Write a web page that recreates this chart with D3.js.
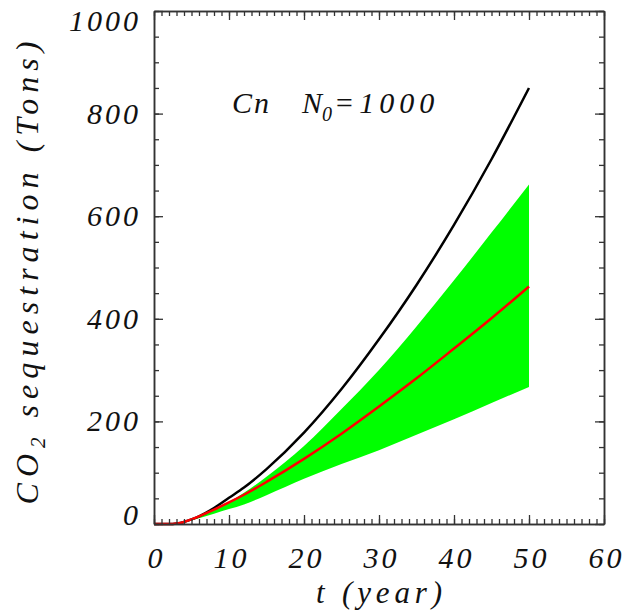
<!DOCTYPE html>
<html>
<head>
<meta charset="utf-8">
<script src="https://cdn.jsdelivr.net/npm/d3@7"></script>
<style>
  body { margin: 0; background: #fff; }
  svg text { font-family: "Liberation Serif", serif; font-style: italic; fill: #111; }
</style>
</head>
<body>
<svg width="623" height="616"></svg>
<script>
// DATA
var years       = [0, 1, 2, 3, 4, 5, 6, 8, 10, 12, 15, 20, 25, 30, 35, 40, 45, 50];
var noMortality = [0, 0, 0, 1, 4, 9, 15, 31, 51, 71, 107, 178, 263, 360, 466, 583, 711, 850];
var bandUpper   = [0, 0, 0, 1, 4, 8, 14, 27, 43, 61, 92, 152, 224, 300, 385, 475, 568, 662];
var meanValue   = [0, 0, 0, 1, 4, 9, 15, 28, 42, 57, 82, 127, 176, 229, 284, 342, 401, 463];
var bandLower   = [0, 0, 0, 1, 3, 7, 11, 20, 29, 38, 56, 88, 117, 144, 174, 204, 236, 267];
var xTicks = [0, 10, 20, 30, 40, 50, 60];
var yTicks = [0, 200, 400, 600, 800, 1000];

//PLOT BOX
var boxL = 154, boxR = 604, boxT = 11, boxB = 524;

var svg = d3.select('svg');

var x = d3.scaleLinear().domain([0, 60]).range([boxL, boxR]);
var y = d3.scaleLinear().domain([0, 1000]).range([boxB, boxT]);

var rows = years.map(function(t, i) {
    return {t: t, black: noMortality[i], hi: bandUpper[i], mean: meanValue[i], lo: bandLower[i]};
});

//GREEN BAND
var band = d3.area()
    .x(function(d) { return x(d.t); })
    .y0(function(d) { return y(d.lo); })
    .y1(function(d) { return y(d.hi); })
    .curve(d3.curveMonotoneX);

svg.append('path')
    .datum(rows)
    .attr('d', band)
    .attr('fill', '#00ff00');

//LINES
function lineOf(key) {
    return d3.line()
        .x(function(d) { return x(d.t); })
        .y(function(d) { return y(d[key]); })
        .curve(d3.curveMonotoneX);
}

svg.append('path')
    .datum(rows)
    .attr('d', lineOf('black'))
    .attr('fill', 'none')
    .attr('stroke', '#000')
    .attr('stroke-width', 2.5);

svg.append('path')
    .datum(rows)
    .attr('d', lineOf('mean'))
    .attr('fill', 'none')
    .attr('stroke', '#ff0000')
    .attr('stroke-width', 2.5);

//AXES (ticks point inward, IDL style)
function styleAxis(g) {
    g.selectAll('path.domain').attr('stroke', '#333').attr('stroke-width', 1.5);
    g.selectAll('.tick line').attr('stroke', '#333').attr('stroke-width', 1.3);
}

// minor ticks
svg.append('g').attr('transform', 'translate(0,' + boxB + ')')
    .call(d3.axisBottom(x).tickValues(d3.range(0, 61, 1)).tickSize(-5).tickSizeOuter(0).tickFormat(''))
    .call(styleAxis);
svg.append('g').attr('transform', 'translate(0,' + boxT + ')')
    .call(d3.axisTop(x).tickValues(d3.range(0, 61, 1)).tickSize(-5).tickSizeOuter(0).tickFormat(''))
    .call(styleAxis);
svg.append('g').attr('transform', 'translate(' + boxL + ',0)')
    .call(d3.axisLeft(y).tickValues(d3.range(0, 1001, 50)).tickSize(-5).tickSizeOuter(0).tickFormat(''))
    .call(styleAxis);
svg.append('g').attr('transform', 'translate(' + boxR + ',0)')
    .call(d3.axisRight(y).tickValues(d3.range(0, 1001, 50)).tickSize(-5).tickSizeOuter(0).tickFormat(''))
    .call(styleAxis);

// major ticks
var xAxisG = svg.append('g').attr('transform', 'translate(0,' + boxB + ')')
    .call(d3.axisBottom(x).tickValues(xTicks).tickSize(-9).tickSizeOuter(0).tickFormat(d3.format('d')))
    .call(styleAxis);
svg.append('g').attr('transform', 'translate(' + boxL + ',0)')
    .call(d3.axisLeft(y).tickValues(yTicks).tickSize(-9).tickSizeOuter(0).tickFormat(''))
    .call(styleAxis);
svg.append('g').attr('transform', 'translate(0,' + boxT + ')')
    .call(d3.axisTop(x).tickValues(xTicks).tickSize(-9).tickSizeOuter(0).tickFormat(''))
    .call(styleAxis);
svg.append('g').attr('transform', 'translate(' + boxR + ',0)')
    .call(d3.axisRight(y).tickValues(yTicks).tickSize(-9).tickSizeOuter(0).tickFormat(''))
    .call(styleAxis);

xAxisG.selectAll('.tick text')
    .attr('y', 44)
    .attr('dy', 0)
    .attr('dx', 2)
    .attr('font-size', null)
    .attr('font-family', null)
    .style('font-size', '30px')
    .style('letter-spacing', '3px')
    .attr('fill', '#111');

// y tick labels, kept inside the picture like the original
svg.append('g').selectAll('text')
    .data(yTicks)
    .enter()
    .append('text')
    .attr('x', 141)
    .attr('y', function(d) { return Math.min(Math.max(y(d), 21), 515) + 10; })
    .attr('text-anchor', 'end')
    .style('font-size', '30px')
    .style('letter-spacing', '3px')
    .text(function(d) { return d; });

//TITLES
svg.append('text')
    .attr('x', 379)
    .attr('y', 603)
    .attr('text-anchor', 'middle')
    .style('font-size', '31px')
    .attr('textLength', 126)
    .attr('lengthAdjust', 'spacing')
    .text('t (year)');

var yTitle = svg.append('text')
    .attr('transform', 'translate(38,' + 273 + ') rotate(-90)')
    .attr('text-anchor', 'middle')
    .style('font-size', '32px')
    .attr('textLength', 463)
    .attr('lengthAdjust', 'spacing');
yTitle.append('tspan').text('CO');
yTitle.append('tspan').attr('dy', 7).style('font-size', '21px').text('2');
yTitle.append('tspan').attr('dy', -7).text(' sequestration (Tons)');

//ANNOTATION
var note = svg.append('text')
    .attr('x', 232)
    .attr('y', 113)
    .style('font-size', '30px');
note.append('tspan').style('letter-spacing', '2px').text('Cn');
note.append('tspan').attr('x', 302).text('N');
note.append('tspan').attr('dy', 8).style('font-size', '20px').text('0');
note.append('tspan').attr('dy', -8).attr('dx', 2).style('letter-spacing', '5px').text('=1000');
</script>
</body>
</html>
